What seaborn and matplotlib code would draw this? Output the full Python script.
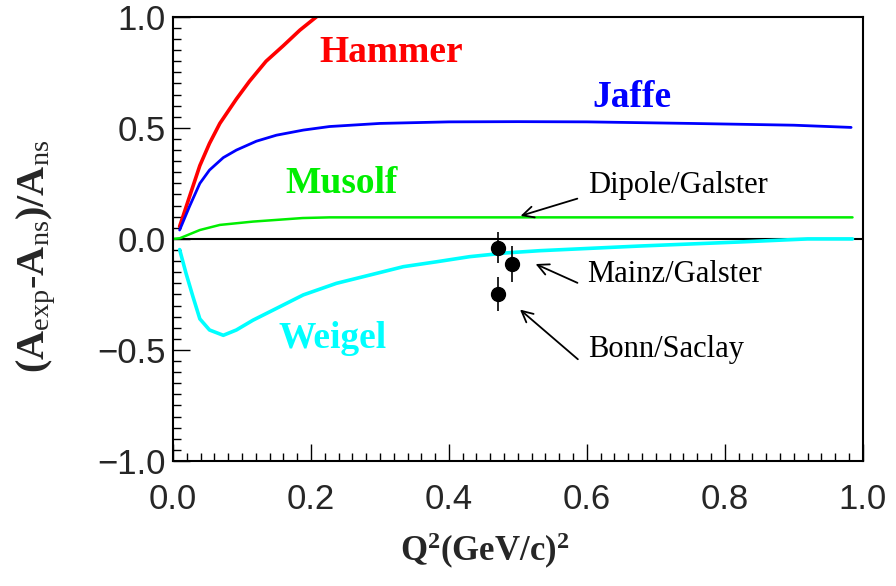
import numpy as np
import pandas as pd
import seaborn as sns
import matplotlib
matplotlib.use("Agg")
from matplotlib import pyplot as plt
from matplotlib.ticker import MultipleLocator

sns.set_style("ticks")
plt.rcParams['font.family'] = ['Liberation Sans', 'DejaVu Sans']
plt.rcParams['mathtext.fontset'] = 'custom'
plt.rcParams['mathtext.rm'] = 'Liberation Serif:bold'
plt.rcParams['mathtext.bf'] = 'Liberation Serif:bold'
plt.rcParams['mathtext.it'] = 'Liberation Serif:bold'
plt.rcParams['mathtext.sf'] = 'Liberation Serif'

# model curves
hammer_x = [0.0097, 0.024, 0.039, 0.053, 0.068, 0.092, 0.111, 0.135, 0.16, 0.184, 0.208]
hammer_y = [0.056, 0.19, 0.33, 0.43, 0.52, 0.63, 0.71, 0.80, 0.87, 0.94, 1.0]

jaffe_x = [0.0097, 0.024, 0.039, 0.053, 0.073, 0.092, 0.121, 0.15, 0.189, 0.227, 0.3, 0.4, 0.5, 0.6, 0.75, 0.9, 0.983]
jaffe_y = [0.04, 0.146, 0.25, 0.31, 0.366, 0.40, 0.44, 0.467, 0.49, 0.506, 0.52, 0.527, 0.528, 0.527, 0.52, 0.512, 0.502]

musolf_x = [0.0, 0.01, 0.039, 0.068, 0.116, 0.188, 0.227, 0.3, 0.4, 0.5, 0.7, 0.985]
musolf_y = [0.0, 0.003, 0.04, 0.063, 0.078, 0.094, 0.097, 0.097, 0.097, 0.097, 0.097, 0.097]

weigel_x = [0.0097, 0.019, 0.029, 0.039, 0.053, 0.073, 0.092, 0.116, 0.15, 0.189, 0.237, 0.285,
            0.334, 0.382, 0.43, 0.483, 0.532, 0.677, 0.82, 0.92, 0.985]
weigel_y = [-0.048, -0.155, -0.26, -0.36, -0.41, -0.434, -0.41, -0.366, -0.313, -0.252, -0.20, -0.163,
            -0.125, -0.103, -0.08, -0.063, -0.053, -0.032, -0.014, 0.0, 0.0]

# measurements
data_x = [0.471, 0.491, 0.471]
data_y = [-0.04, -0.113, -0.248]
data_err = [0.07, 0.08, 0.077]

curves = pd.concat([
    pd.DataFrame({'x': hammer_x, 'y': hammer_y, 'model': 'Hammer'}),
    pd.DataFrame({'x': jaffe_x, 'y': jaffe_y, 'model': 'Jaffe'}),
    pd.DataFrame({'x': musolf_x, 'y': musolf_y, 'model': 'Musolf'}),
    pd.DataFrame({'x': weigel_x, 'y': weigel_y, 'model': 'Weigel'}),
])
colors = {'Hammer': '#ff0000', 'Jaffe': '#0000ff', 'Musolf': '#00ee00', 'Weigel': '#00ffff'}
widths = {'Hammer': 2.6, 'Jaffe': 2.0, 'Musolf': 1.8, 'Weigel': 2.6}

fig = plt.figure(figsize=(8.96, 5.86), dpi=100)
ax = fig.add_axes([0.193, 0.2133, 0.77, 0.758])

ax.axhline(0, color='black', lw=1.5, zorder=1)
for name, sub in curves.groupby('model'):
    sns.lineplot(data=sub, x='x', y='y', color=colors[name], lw=widths[name],
                 ax=ax, legend=False, sort=False, zorder=2)

ax.errorbar(data_x, data_y, yerr=data_err, fmt='o', color='black', ms=10,
            elinewidth=1.2, capsize=0, zorder=4)

ax.set_xlim(0, 1.0)
ax.set_ylim(-1.0, 1.0)
ax.xaxis.set_major_locator(MultipleLocator(0.2))
ax.xaxis.set_minor_locator(MultipleLocator(0.02))
ax.yaxis.set_major_locator(MultipleLocator(0.5))
ax.yaxis.set_minor_locator(MultipleLocator(0.05))
ax.tick_params(which='both', direction='in', top=False, right=False, width=1.0, color='black')
ax.tick_params(which='major', length=12)
ax.tick_params(which='minor', length=6)
ax.tick_params(axis='x', which='major', pad=16, labelsize=25)
ax.tick_params(axis='y', which='major', pad=5, labelsize=25)
for s in ax.spines.values():
    s.set_linewidth(1.5)
    s.set_color('black')

ax.set_xlabel(r'$\mathrm{Q}^{2}\mathrm{(GeV/c)}^{2}$', fontsize=25)
ax.xaxis.set_label_coords(0.452, -0.158)
ax.set_ylabel(r'$\mathrm{(A}_{\mathsf{exp}}\mathrm{\text{-}A}_{\mathsf{ns}}\mathrm{)/A}_{\mathsf{ns}}$', fontsize=29)
ax.yaxis.set_label_coords(-0.167, 0.46)

serif = 'Liberation Serif'
ax.text(0.317, 0.84, 'Hammer', color='#ff0000', fontsize=27, fontweight='bold',
        family=serif, ha='center', va='center')
ax.text(0.665, 0.635, 'Jaffe', color='#0000ff', fontsize=27, fontweight='bold',
        family=serif, ha='center', va='center')
ax.text(0.245, 0.25, 'Musolf', color='#00ee00', fontsize=27, fontweight='bold',
        family=serif, ha='center', va='center')
ax.text(0.232, -0.45, 'Weigel', color='#00ffff', fontsize=27, fontweight='bold',
        family=serif, ha='center', va='center')

labels = ['Dipole/Galster', 'Mainz/Galster', 'Bonn/Saclay']
label_y = [0.24, -0.16, -0.50]
tips = [(0.50, 0.10), (0.522, -0.108), (0.50, -0.31)]
tails = [(0.59, 0.185), (0.59, -0.203), (0.59, -0.55)]
for lab, ly, tip, tail in zip(labels, label_y, tips, tails):
    ax.text(0.601, ly, lab, fontsize=22, family=serif, ha='left', va='center', color='black')
    ax.annotate('', xy=tip, xytext=tail,
                arrowprops=dict(arrowstyle='->,head_length=0.8,head_width=0.4',
                                color='black', lw=1.3))

plt.savefig('out.png', dpi=100)
